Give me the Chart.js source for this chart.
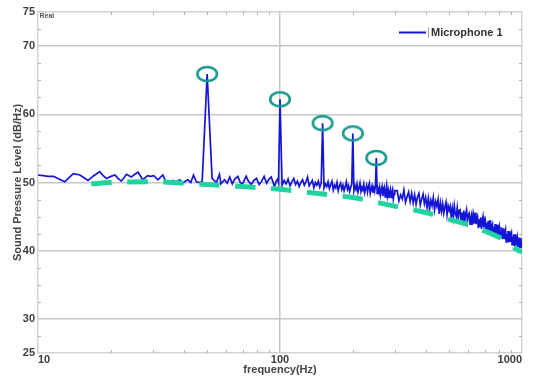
<!DOCTYPE html>
<html><head><meta charset="utf-8">
<script src="https://cdn.jsdelivr.net/npm/chart.js@4.4.1/dist/chart.umd.min.js"></script>
<style>html,body{margin:0;padding:0;background:#fff;}canvas{display:block;}</style>
</head><body>
<canvas id="c" width="533" height="379"></canvas>
<script>
// ---------- DATA ----------
const freqLow = [10,10.5,11,11.6,12.2,12.9,13.5,14.0,14.9,15.5,
  16.1,17.0,18.0,18.6,19.2,20.0,20.8,21.4,22.1,23.2,
  24.3,25.1,25.9,27.1,28.4,29.2,30.1,31.3,32.1,32.8,
  33.9,35.0,36.2,37.3,38.5,39.7,40.6,41.6,42.8,43.9,
  45.1,46.6,47.7,50.0,52.4,54.6,56.2,57.0,59.0,60.5,
  62.0,63.5,65.0,67.0,68.5,70.0,72.5,74.0,76.0,78.0,
  80,82,84,86,88,90,92,94.9,96.5,97.8,
  98.6,100];
const valLow = [51.1,51.0,50.9,50.9,50.5,50.1,50.8,51.3,51.1,50.7,
  50.3,51.0,51.6,51.0,50.6,50.9,51.1,50.6,50.2,51.2,
  50.8,51.2,51.5,50.4,51.0,50.9,51.0,50.4,50.8,51.1,
  50.0,50.1,50.3,50.1,50.4,49.9,50.2,50.4,50.0,51.1,
  50.1,50.0,50.2,65.9,50.6,50.0,51.2,49.8,50.4,49.9,
  50.8,49.8,50.5,50.9,50.0,49.8,50.9,50.2,49.7,50.3,
  50.6,49.7,50.2,50.9,49.9,50.5,50.8,49.4,50.2,50.5,
  50.0,62.2];

const freqMid = [102,104,106,108,110,112,114,116,118,120,
  122,124,126,128,130,132,134,136,138,140,
  142,144,146,148,150,152,154,156,158,160,
  162,164,166,168,170,172,174,176,178,180,
  182,184,186,188,190,192,194,196,198,200,
  202,204,206,208,210,212,214,216,218,220,
  222,224,226,228,230,232,234,236,238,240,
  242,244,246,248,250,252,254,256,258,260,
  262,264,266,268,270,272,274,276,278,280,
  282,284,286,288,290,292,294,296,298];
const valMid = [49.6,50.3,49.8,50.5,49.5,50.1,50.6,49.7,50.2,49.4,
  50.0,50.4,49.6,50.1,50.8,49.5,49.9,50.3,49.2,50.0,
  49.6,50.2,49.3,49.9,58.7,49.2,49.8,49.4,50.1,49.1,
  49.7,50.2,48.9,49.6,49.2,50.0,48.8,49.5,49.9,49.0,
  49.6,48.8,49.4,50.1,49.0,49.5,48.7,49.3,49.8,57.2,
  48.8,49.5,49.0,49.8,48.6,49.2,49.9,48.7,49.3,48.9,
  49.7,48.5,49.1,49.6,48.6,49.4,49.9,48.4,49.0,49.5,
  48.5,49.2,48.7,49.6,53.6,48.4,49.1,48.6,49.3,48.2,
  48.9,49.4,48.0,48.7,49.2,47.9,48.6,49.5,48.1,48.8,
  47.7,48.5,49.0,47.8,48.4,48.9,47.6,48.3,48.8];

const freqHigh = [305,310,315,320,325,330,335,340,345,350,
  355,360,365,370,375,380,385,390,395,400,
  405,410,415,420,425,430,435,440,445,450,
  455,460,465,470,475,480,485,490,495,500,
  505,510,515,520,525,530,535,540,545,550,
  555,560,565,570,575,580,585,590,595,600,
  605,610,615,620,625,630,635,640,645,650,
  655,660,665,670,675,680,685,690,695,700,
  705,710,715,720,725,730,735,740,745,750,
  755,760,765,770,775,780,785,790,795,800,
  805,810,815,820,825,830,835,840,845,850,
  855,860,865,870,875,880,885,890,895,900,
  905,910,915,920,925,930,935,940,945,950,
  955,960,965,970,975,980,985,990,995,1000];
const valHigh = [48.8,47.3,48.2,47.6,48.9,47.1,47.9,48.6,47.2,48.4,
  47.0,48.2,46.8,47.9,48.4,46.7,47.6,48.3,46.9,47.8,
  46.3,47.7,46.1,47.4,46.6,47.8,46.0,47.2,46.5,47.5,
  45.4,47.0,45.8,46.9,45.5,46.4,47.1,45.3,46.6,45.9,
  46.5,45.0,46.2,44.9,46.6,45.4,45.0,46.3,44.8,45.9,
  46.0,44.3,45.6,44.5,45.9,44.2,45.4,46.0,44.4,45.3,
  45.5,43.9,44.8,45.4,43.8,45.1,44.0,45.6,43.9,44.6,
  45.0,43.3,44.6,43.5,44.9,43.2,44.4,45.0,43.4,44.1,
  44.5,42.8,44.1,43.0,44.4,42.9,43.7,44.5,42.7,43.6,
  43.9,42.3,43.5,42.4,43.9,42.5,43.1,43.8,42.2,43.0,
  43.5,41.8,42.9,42.0,43.4,41.7,42.8,43.3,41.8,42.5,
  43.0,41.3,42.5,41.5,42.9,41.2,42.2,42.9,41.4,42.1,
  42.5,40.9,42.1,41.0,42.4,40.8,41.7,42.4,40.9,41.6,
  42.0,40.5,41.6,40.6,41.9,40.4,41.3,41.8,40.6,40.7];

// fitted trend (green dashed)
const trendFreq  = [16.6, 20, 30, 40, 50, 70, 100, 150, 200, 300, 400, 500, 600, 700, 800, 850, 900, 950, 1000];
const trendLevel = [49.8, 50.0, 50.1, 49.9, 49.7, 49.4, 49.0, 48.3, 47.8, 46.5, 45.6, 44.6, 43.8, 42.9, 42.0, 41.5, 40.9, 40.2, 39.8];

// harmonic peaks (circled)
const peakFreq  = [50, 100, 150, 200, 250];
const peakLevel = [65.9, 62.2, 58.7, 57.2, 53.6];

// axes
const xTicks = [10,20,30,40,50,60,70,80,90,100,200,300,400,500,600,700,800,900,1000];
const xLabels = [10, 100, 1000];
const xGrid = [100];
const yTicks = [25,27.5,30,32.5,35,37.5,40,42.5,45,47.5,50,52.5,55,57.5,60,62.5,65,67.5,70,72.5,75];
const yLabels = [25, 30, 40, 50, 60, 70, 75];
const yGrid = [30, 40, 50, 60, 70];

// ---------- STYLE ----------
const FONT = '"Liberation Sans", Arial, Helvetica, sans-serif';
const BLUE = '#1515d8';
const GREEN = '#20d3a0';
const TEAL = '#17998d';
const GRID = '#c6c6c6';
const FRAME = '#d2d2d2';
const TXT = '#3c3c3c';

const allF = freqLow.concat(freqMid, freqHigh);
const allV = valLow.concat(valMid, valHigh);

function ellipseMarker() {
  const c = document.createElement('canvas');
  c.width = 26; c.height = 20;
  const g = c.getContext('2d');
  g.strokeStyle = TEAL; g.lineWidth = 2.6;
  g.beginPath(); g.ellipse(13, 10, 9.8, 7, 0, 0, Math.PI * 2); g.stroke();
  return c;
}

const decor = {
  id: 'decor',
  afterDraw(chart) {
    const {ctx, chartArea: a, scales: {x, y}} = chart;
    ctx.save();
    ctx.strokeStyle = '#b0b0b0';
    ctx.lineWidth = 1;
    const seg = (x1, y1, x2, y2) => { ctx.beginPath(); ctx.moveTo(x1, y1); ctx.lineTo(x2, y2); ctx.stroke(); };
    x.ticks.forEach((t, i) => {
      if (i === 0 || i === x.ticks.length - 1 || xGrid.includes(t.value)) return;
      const px = Math.round(x.getPixelForValue(t.value)) + 0.5;
      seg(px, a.top, px, a.top + 3);
      seg(px, a.bottom - 3, px, a.bottom);
    });
    y.ticks.forEach((t, i) => {
      if (i === 0 || i === y.ticks.length - 1 || yGrid.includes(t.value)) return;
      const py = Math.round(y.getPixelForValue(t.value)) + 0.5;
      seg(a.left, py, a.left + 3, py);
      seg(a.right - 3, py, a.right, py);
    });
    // unit tag
    ctx.fillStyle = '#555';
    ctx.font = 'bold 7px ' + FONT;
    ctx.textBaseline = 'alphabetic';
    ctx.textAlign = 'left';
    ctx.fillText('Real', a.left + 1.5, a.top + 5.7);
    // legend
    const ds = chart.data.datasets[2];
    const lx = a.right - 123, ly = a.top + 20.5;
    ctx.strokeStyle = ds.borderColor; ctx.lineWidth = 2;
    seg(lx, ly, lx + 27, ly);
    ctx.strokeStyle = '#999'; ctx.lineWidth = 1;
    seg(lx + 29.5, ly - 5, lx + 29.5, ly + 5);
    ctx.fillStyle = '#333';
    ctx.font = 'bold 11px ' + FONT;
    ctx.textBaseline = 'middle';
    ctx.fillText(ds.label, lx + 32, ly);
    ctx.restore();
  }
};

new Chart(document.getElementById('c'), {
  type: 'line',
  data: {
    datasets: [
      {
        label: 'peaks',
        data: peakFreq.map((f, i) => ({x: f, y: peakLevel[i]})),
        showLine: false,
        pointStyle: ellipseMarker(),
        pointRadius: 10,
        clip: false
      },
      {
        label: 'trend',
        data: trendFreq.map((f, i) => ({x: f, y: trendLevel[i]})),
        borderColor: GREEN,
        borderWidth: 5,
        borderDash: [20.5, 15.5],
        borderCapStyle: 'butt',
        pointRadius: 0,
        tension: 0.3,
        fill: false
      },
      {
        label: 'Microphone 1',
        data: allF.map((f, i) => ({x: f, y: allV[i]})),
        borderColor: BLUE,
        borderWidth: 1.7,
        pointRadius: 0,
        tension: 0,
        fill: false
      }
    ]
  },
  options: {
    responsive: false,
    animation: false,
    devicePixelRatio: 1,
    layout: {padding: {top: 12, right: 10, left: 0, bottom: 0}},
    plugins: {legend: {display: false}, tooltip: {enabled: false}},
    scales: {
      x: {
        type: 'logarithmic',
        min: 10, max: 1000,
        afterBuildTicks: s => { s.ticks = xTicks.map(v => ({value: v})); },
        afterFit: s => { s.height = 26; },
        ticks: {
          autoSkip: false, maxRotation: 0, align: 'inner', padding: 0,
          color: TXT, font: {family: FONT, size: 11, weight: 'bold'},
          callback: v => xLabels.includes(v) ? String(v) : ''
        },
        grid: {
          drawTicks: false, lineWidth: 1.5,
          color: c => (c.tick && xGrid.includes(c.tick.value)) ? GRID : (c.tick && c.tick.value === 1000 ? FRAME : 'rgba(0,0,0,0)')
        },
        border: {color: FRAME, width: 1.5},
        title: {display: true, text: 'frequency(Hz)', color: '#444',
          font: {family: FONT, size: 11, weight: 'bold'}, padding: {top: 0, bottom: 2}}
      },
      y: {
        type: 'linear',
        min: 25, max: 75,
        afterBuildTicks: s => { s.ticks = yTicks.map(v => ({value: v})); },
        afterFit: s => { s.width = 38; },
        ticks: {
          autoSkip: false, padding: 3,
          color: TXT, font: {family: FONT, size: 11, weight: 'bold'},
          callback: v => yLabels.includes(v) ? String(v) : ''
        },
        grid: {
          drawTicks: false, lineWidth: 1.5,
          color: c => (c.tick && yGrid.includes(c.tick.value)) ? GRID : (c.tick && c.tick.value === 75 ? FRAME : 'rgba(0,0,0,0)')
        },
        border: {color: FRAME, width: 1.5},
        title: {display: true, text: 'Sound Pressure Level (dB/Hz)', color: '#444',
          font: {family: FONT, size: 11, weight: 'bold'}, padding: {top: 11, bottom: 0}}
      }
    }
  },
  plugins: [decor]
});
</script>
</body></html>
